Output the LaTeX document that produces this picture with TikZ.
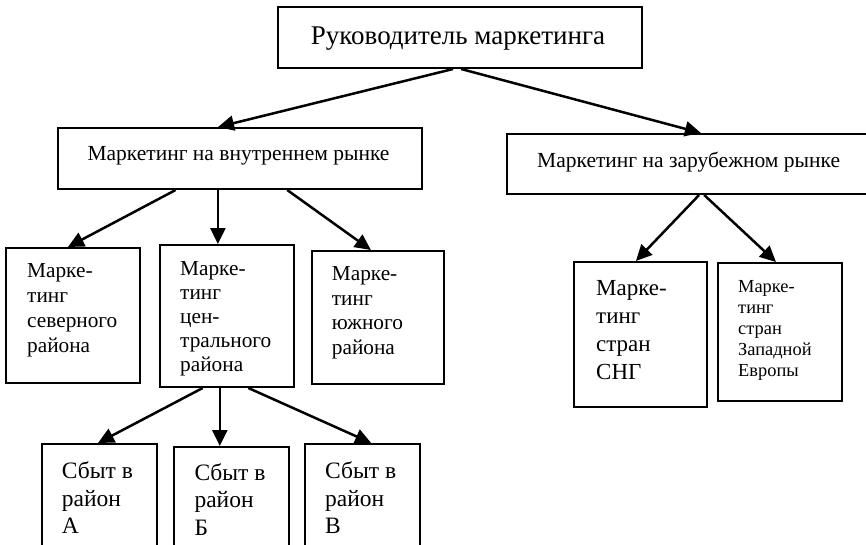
\documentclass[tikz,border=0pt]{standalone}
\usepackage{fontspec}
\setmainfont{Liberation Serif}
\usetikzlibrary{arrows.meta,calc}
\begin{document}
\begin{tikzpicture}[x=1pt,y=-1pt,
 box/.style={draw,line width=2pt,rectangle,inner sep=0pt,anchor=north west},
 txt/.style={inner sep=0pt,align=left,anchor=north west},
 conn/.style={line width=2.5pt,-{Triangle[length=16pt,width=15pt]}}]
\useasboundingbox (0,0) rectangle (866,544);
\fill[white] (0,0) rectangle (866,544);
\begin{scope}
\clip (0,0) rectangle (866,544);
% boxes
\node[box,minimum width=364pt,minimum height=61pt] (top) at (277,6) {};
\node[box,minimum width=364pt,minimum height=61pt] (inner) at (57,127) {};
\node[box,minimum width=363pt,minimum height=60pt] (foreign) at (506,133) {};
\node[box,minimum width=134pt,minimum height=135pt] (north) at (5,247) {};
\node[box,minimum width=134pt,minimum height=142pt] (central) at (159,244) {};
\node[box,minimum width=132pt,minimum height=133pt] (south) at (311,250) {};
\node[box,minimum width=133pt,minimum height=145pt] (cis) at (573,261) {};
\node[box,minimum width=124pt,minimum height=138pt] (europe) at (717,262) {};
\node[box,minimum width=115pt,minimum height=115pt] (ra) at (41,443) {};
\node[box,minimum width=115pt,minimum height=115pt] (rb) at (173,446) {};
\node[box,minimum width=115pt,minimum height=115pt] (rc) at (304,443) {};
% texts
\node[txt,anchor=north,font=\fontsize{27}{32}\selectfont] (ttop) at (458,26.7) {Руководитель маркетинга};
\node[txt,anchor=north,font=\fontsize{21.5}{25}\selectfont] (tinner) at (238.5,146) {Маркетинг на внутреннем рынке};
\node[txt,font=\fontsize{21.5}{25}\selectfont] (tforeign) at (537,151.7) {Маркетинг на зарубежном рынке};
\node[txt,font=\fontsize{21.3}{25}\selectfont] (tnorth) at (27,263.3) {Марке-\\тинг\\северного\\района};
\node[txt,font=\fontsize{21.3}{24}\selectfont] (tcentral) at (180,261.7) {Марке-\\тинг\\цен-\\трального\\района};
\node[txt,font=\fontsize{21.3}{24.5}\selectfont] (tsouth) at (331.7,266.7) {Марке-\\тинг\\южного\\района};
\node[txt,font=\fontsize{23}{27.7}\selectfont] (tcis) at (596,280.7) {Марке-\\тинг\\стран\\СНГ};
\node[txt,font=\fontsize{18.4}{21}\selectfont] (teurope) at (738,280) {Марке-\\тинг\\стран\\Западной\\Европы};
\node[txt,font=\fontsize{23.5}{27.5}\selectfont] (tra) at (61.7,461.7) {Сбыт в\\район\\А};
\node[txt,font=\fontsize{23.5}{27.5}\selectfont] (trb) at (194.3,463.3) {Сбыт в\\район\\Б};
\node[txt,font=\fontsize{23.5}{27.5}\selectfont] (trc) at (325,461.7) {Сбыт в\\район\\В};
% connectors
\draw[conn] ($(top.south west)!0.481!(top.south east)$) -- ($(inner.north west)!0.44!(inner.north east)$);
\draw[conn] ($(top.south west)!0.503!(top.south east)$) -- ($(foreign.north west)!0.534!(foreign.north east)$);
\draw[conn] ($(inner.south west)!0.324!(inner.south east)$) -- ($(north.north west)!0.463!(north.north east)$);
\coordinate (cc) at ($(central.north west)!0.433!(central.north east)$);
\draw[conn] (cc |- inner.south) -- (cc);
\draw[conn] ($(inner.south west)!0.629!(inner.south east)$) -- ($(south.north west)!0.447!(south.north east)$);
\draw[conn] ($(foreign.south west)!0.529!(foreign.south east)$) -- ($(cis.north west)!0.466!(cis.north east)$);
\draw[conn] ($(foreign.south west)!0.543!(foreign.south east)$) -- ($(europe.north west)!0.468!(europe.north east)$);
\draw[conn] ($(central.south west)!0.321!(central.south east)$) -- ($(ra.north west)!0.487!(ra.north east)$);
\coordinate (cb) at ($(rb.north west)!0.4!(rb.north east)$);
\draw[conn] (cb |- central.south) -- (cb);
\draw[conn] ($(central.south west)!0.657!(central.south east)$) -- ($(rc.north west)!0.574!(rc.north east)$);
\end{scope}
\end{tikzpicture}
\end{document}
